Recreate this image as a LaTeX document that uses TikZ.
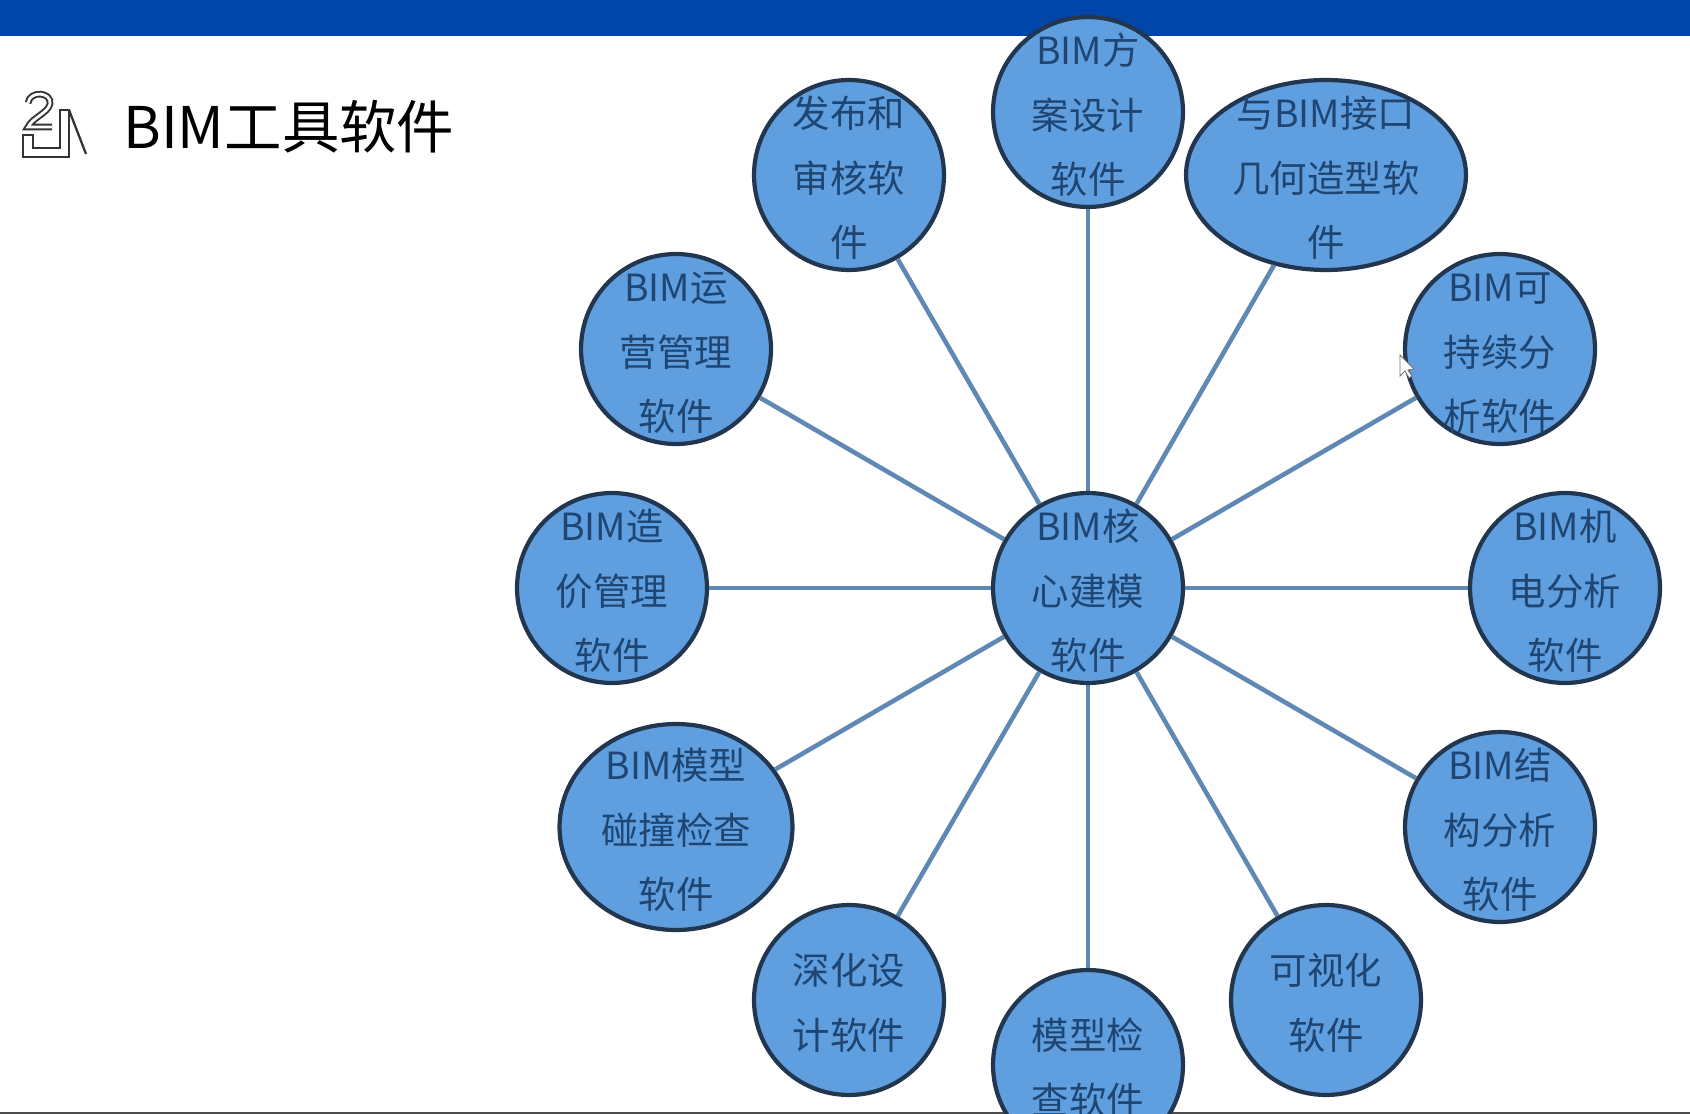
\documentclass[tikz,border=0pt]{standalone}
\usepackage{fontspec}
\setmainfont{Noto Sans CJK SC}
\usetikzlibrary{shapes.geometric}
\definecolor{bandblue}{HTML}{0046A8}
\definecolor{bubblefill}{HTML}{5F9FE0}
\definecolor{bubbleedge}{HTML}{22364F}
\definecolor{spokeblue}{HTML}{5F88B4}
\definecolor{bubbletext}{HTML}{1F4672}
\newcommand{\topgap}{\rule{0pt}{21.2pt}}
\tikzset{
  bubble/.style={ellipse, draw=bubbleedge, fill=bubblefill, line width=2.4pt, inner xsep=0pt, inner ysep=-0.6cm,
    minimum width=3.8cm, minimum height=3.8cm, align=center, text=bubbletext,
    font=\fontsize{21.3}{36.7}\selectfont},
  spoke/.style={draw=spokeblue, line width=2.6pt}
}
\begin{document}
\begin{tikzpicture}[x=0.02cm, y=-0.02cm]
  \useasboundingbox (0,0) rectangle (1690,1114);
  \clip (0,0) rectangle (1690,1114);
  % franja superior
  \fill[bandblue] (0,0) rectangle (1690,36);
  \draw[black!70, line width=1.2pt] (0,1113) -- (1690,1113);
  % icono
  \draw[black!80, line width=1.3pt] (23,135) -- (23,157) -- (69,157) -- (69,110) -- (60,110) -- (60,148) -- (33,148) -- (33,135) -- cycle;
  \draw[black!80, line width=1.3pt] (69,110) -- (86,154);
  \draw[black!80, line width=1.1pt, double=white, double distance=1.6pt] (28,103) .. controls (30,90) and (52,92) .. (50,104) .. controls (48,113) and (32,118) .. (28,127) -- (52,127);
  % titulo
  \node[anchor=west, inner sep=0pt, font=\fontsize{32.7}{36}\selectfont] (title) at (123,127) {BIM工具软件};
  % burbujas
  \node[bubble] (core) at (1088,588) {\topgap BIM核\\心建模\\软件};
  \node[bubble] (plan) at (1088,112) {\topgap BIM方\\案设计\\软件};
  \node[bubble] (publish) at (849,175) {\topgap 发布和\\审核软\\件};
  \node[bubble, minimum width=5.6cm] (geometry) at (1326,175) {\topgap 与BIM接口\\几何造型软\\件};
  \node[bubble] (operate) at (676,349) {\topgap BIM运\\营管理\\软件};
  \node[bubble] (sustain) at (1500,349) {\topgap BIM可\\持续分\\析软件};
  \node[bubble] (cost) at (612,588) {\topgap BIM造\\价管理\\软件};
  \node[bubble] (mep) at (1565,588) {\topgap BIM机\\电分析\\软件};
  \node[bubble, minimum width=4.66cm, minimum height=4.12cm] (clash) at (676,827) {\topgap BIM模型\\碰撞检查\\软件};
  \node[bubble] (struct) at (1500,827) {\topgap BIM结\\构分析\\软件};
  \node[bubble] (detail) at (849,1000) {\topgap 深化设\\计软件};
  \node[bubble] (visual) at (1326,1000) {\topgap 可视化\\软件};
  \node[bubble] (check) at (1088,1065) {\topgap 模型检\\查软件};
  % radios
  \foreach \target in {plan,publish,geometry,operate,sustain,cost,mep,clash,struct,detail,visual,check}
    \draw[spoke] (core) -- (\target);
  % cursor
  \draw[black!55, fill=white, line width=0.5pt] (1400,355) -- (1400,376) -- (1405,371) -- (1409,378) -- (1412,376) -- (1408,370) -- (1414,369) -- cycle;
\end{tikzpicture}
\end{document}
